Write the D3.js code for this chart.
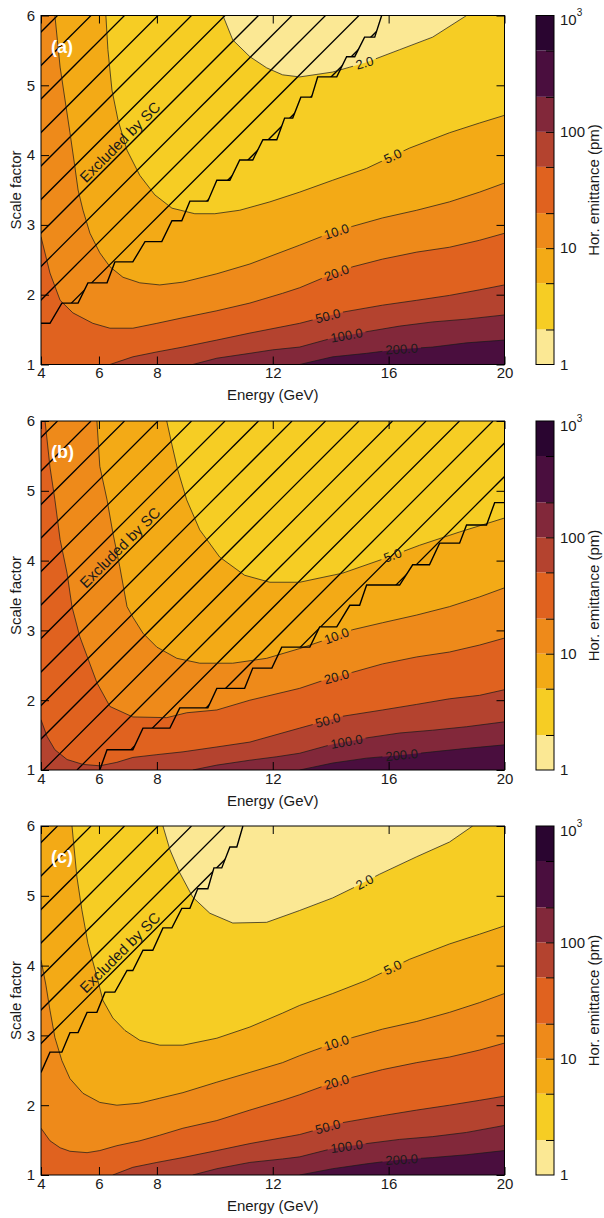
<!DOCTYPE html>
<html>
<head>
<meta charset="utf-8">
<script src="https://cdn.jsdelivr.net/npm/d3@7"></script>
<style>
  body { margin: 0; background: #fff; }
  svg { display: block; }
  text { font-family: "Liberation Sans", Arial, Helvetica, sans-serif; }
</style>
</head>
<body>
<svg id="chart" width="604" height="1218"></svg>
<script>
// ---------- data ----------
const energyTicks = [4, 6, 8, 12, 16, 20];
const scaleTicks = [1, 2, 3, 4, 5, 6];
const levels = [1, 2, 5, 10, 20, 50, 100, 200, 500, 1000];
const bandColors = ["#fbe894", "#f6cd24", "#f3aa16", "#ee8a1a", "#e0621f", "#b4432f", "#82283a", "#4a0e3e", "#2a0530"];
const colorbarLabels = [1, 10, 100, 1000];
const panelTags = ["(a)", "(b)", "(c)"];

// iso-emittance lines, points are [energy GeV, scale factor]
const emitA2 = [[10.28,6],[10.62,5.65],[11.21,5.41],[11.79,5.25],[12.34,5.15],[12.93,5.12],[14.07,5.19],[14.66,5.26],[15.24,5.33],[16.38,5.51],[17.52,5.69],[18.69,6]];
const emitA5 = [[6.24,6],[6.31,5.51],[6.45,4.93],[6.66,4.5],[6.97,4.07],[7.41,3.71],[7.93,3.43],[8.52,3.24],[9.31,3.16],[10.0,3.16],[10.86,3.21],[11.9,3.33],[12.93,3.47],[14.07,3.64],[15.24,3.81],[16.72,4.1],[18.1,4.32],[19.14,4.46],[20,4.57]];
const emitA10 = [[4.48,6],[4.66,5.26],[4.83,4.79],[5.0,4.32],[5.17,3.83],[5.28,3.5],[5.45,3.21],[5.69,2.88],[6.03,2.6],[6.38,2.4],[6.83,2.25],[7.41,2.17],[8.1,2.14],[8.9,2.18],[10.07,2.3],[11.21,2.44],[12.93,2.71],[13.79,2.85],[14.76,2.98],[15.79,3.1],[16.97,3.21],[18.1,3.33],[19.14,3.47],[20,3.6]];
const emitA20 = [[4,2.83],[4.31,2.31],[4.66,1.92],[5.1,1.74],[5.79,1.59],[6.38,1.52],[7.17,1.52],[8.0,1.59],[8.9,1.67],[10.07,1.77],[11.21,1.88],[12.34,2.02],[12.93,2.1],[13.79,2.25],[14.76,2.4],[15.79,2.51],[16.97,2.61],[18.1,2.68],[19.14,2.78],[20,2.88]];
const emitA50 = [[6.38,1],[7.17,1.11],[8.0,1.18],[8.9,1.25],[10.07,1.35],[11.21,1.45],[12.93,1.59],[14.41,1.75],[15.79,1.85],[16.97,1.92],[18.1,1.99],[19.14,2.07],[20,2.14]];
const emitA100 = [[9.24,1],[10.07,1.09],[11.21,1.16],[12.0,1.21],[12.93,1.25],[14.07,1.38],[15.24,1.47],[16.38,1.55],[17.52,1.61],[18.69,1.65],[20,1.71]];
const emitA200 = [[12.93,1],[14.07,1.11],[15.24,1.16],[16.38,1.22],[17.52,1.25],[18.69,1.31],[20,1.35]];

const emitB5 = [[8.34,6],[8.52,5.66],[8.72,5.3],[9.03,4.87],[9.48,4.44],[10.17,4.05],[11.03,3.79],[11.9,3.69],[12.93,3.69],[14.41,3.82],[15.79,4.02],[17.07,4.22],[18.45,4.41],[20,4.61]];
const emitB10 = [[5.93,6],[6.03,5.35],[6.28,4.87],[6.48,4.4],[6.72,3.91],[6.97,3.34],[7.17,3.19],[7.52,2.96],[8.0,2.76],[8.69,2.6],[9.48,2.53],[10.62,2.53],[11.79,2.6],[12.93,2.74],[13.79,2.86],[14.76,3.01],[15.79,3.11],[16.97,3.22],[18.1,3.34],[19.14,3.48],[20,3.61]];
const emitB20 = [[4.14,6],[4.31,5.34],[4.48,4.87],[4.66,4.3],[4.9,3.82],[5.07,3.34],[5.34,2.91],[5.93,2.25],[6.38,1.91],[7.17,1.76],[8.34,1.75],[9.03,1.82],[10.07,1.86],[11.21,2.0],[12.93,2.17],[13.79,2.29],[14.76,2.4],[15.79,2.52],[16.97,2.62],[18.1,2.69],[19.14,2.79],[20,2.89]];
const emitB50 = [[4,1.72],[4.21,1.48],[4.48,1.29],[4.9,1.15],[5.45,1.08],[6.03,1.06],[6.62,1.11],[7.17,1.18],[8.0,1.22],[8.9,1.26],[10.07,1.33],[11.21,1.4],[12.93,1.6],[14.41,1.77],[15.79,1.86],[16.97,1.94],[18.1,2.02],[19.14,2.07],[20,2.15]];
const emitB100 = [[9.24,1],[10.07,1.07],[11.21,1.14],[12.14,1.19],[12.93,1.24],[14.07,1.37],[15.24,1.46],[16.38,1.53],[17.52,1.57],[18.69,1.62],[20,1.69]];
const emitB200 = [[12.93,1],[14.07,1.1],[15.24,1.17],[16.38,1.21],[17.52,1.26],[18.69,1.31],[20,1.36]];

const emitC2 = [[8.21,6],[8.45,5.66],[8.79,5.33],[9.24,4.98],[9.83,4.75],[10.62,4.61],[11.79,4.62],[12.93,4.79],[14.07,4.97],[14.76,5.11],[15.69,5.31],[16.97,5.56],[18.1,5.77],[18.9,6]];
const emitC5 = [[5.07,6],[5.24,5.27],[5.41,4.8],[5.62,4.32],[5.93,3.84],[6.14,3.5],[6.48,3.25],[6.9,3.07],[7.41,2.93],[8.1,2.86],[8.9,2.86],[10.07,2.96],[11.21,3.12],[12.34,3.32],[12.93,3.43],[14.07,3.6],[15.24,3.79],[16.72,4.09],[18.1,4.31],[19.14,4.45],[20,4.57]];
const emitC10 = [[4,4.08],[4.17,3.72],[4.31,3.36],[4.48,2.97],[4.72,2.64],[5.0,2.38],[5.45,2.17],[6.03,2.04],[6.62,2.0],[7.41,2.03],[8.1,2.1],[8.9,2.18],[10.07,2.33],[11.21,2.47],[12.34,2.61],[12.93,2.71],[13.79,2.84],[14.76,2.97],[15.79,3.09],[16.97,3.2],[18.1,3.33],[19.14,3.47],[20,3.6]];
const emitC20 = [[4,1.67],[4.31,1.49],[4.66,1.39],[5.0,1.34],[5.59,1.32],[6.03,1.35],[6.62,1.42],[7.41,1.49],[8.1,1.57],[8.9,1.67],[10.07,1.78],[11.21,1.93],[12.34,2.07],[12.93,2.15],[13.79,2.28],[14.76,2.4],[15.79,2.51],[16.97,2.61],[18.1,2.69],[19.14,2.79],[20,2.89]];
const emitC50 = [[6.48,1],[7.17,1.11],[8.0,1.18],[8.9,1.25],[10.07,1.35],[11.21,1.45],[12.93,1.58],[14.41,1.75],[15.79,1.85],[16.97,1.93],[18.1,2.0],[19.14,2.07],[20,2.13]];
const emitC100 = [[9.24,1],[10.07,1.09],[11.21,1.18],[12.34,1.23],[12.93,1.26],[14.07,1.38],[15.24,1.45],[16.38,1.51],[17.52,1.55],[18.69,1.61],[20,1.71]];
const emitC200 = [[12.93,1],[14.07,1.09],[15.24,1.16],[16.38,1.22],[17.52,1.25],[18.69,1.29],[20,1.35]];

// space-charge limit (region above/left of it is excluded)
const scLimitA = [[4,1.59],[4.31,1.59],[4.72,1.88],[5.28,1.88],[5.62,2.17],[6.28,2.17],[6.55,2.47],[7.17,2.47],[7.59,2.76],[8.17,2.76],[8.52,3.06],[8.86,3.06],[9.14,3.34],[9.76,3.34],[10.07,3.64],[10.52,3.64],[10.86,3.93],[11.31,3.93],[11.66,4.22],[12.14,4.22],[12.41,4.53],[12.69,4.53],[12.97,4.83],[13.34,4.83],[13.55,5.12],[14.21,5.12],[14.55,5.41],[14.83,5.41],[15.17,5.69],[15.52,5.69],[15.76,6]];
const scLimitB = [[6.03,1],[6.28,1.29],[7.17,1.29],[7.52,1.6],[8.45,1.6],[8.79,1.89],[9.76,1.89],[10.07,2.17],[11.03,2.17],[11.31,2.46],[11.97,2.46],[12.31,2.76],[13.28,2.76],[13.62,3.05],[14.21,3.05],[14.66,3.36],[15.0,3.36],[15.24,3.65],[16.38,3.65],[16.83,3.94],[17.41,3.94],[17.76,4.25],[18.45,4.25],[18.69,4.51],[19.38,4.51],[19.66,4.83],[20,4.83]];
const scLimitC = [[4,2.47],[4.31,2.76],[4.72,2.76],[5.0,3.04],[5.28,3.04],[5.59,3.33],[5.93,3.33],[6.21,3.62],[6.55,3.62],[6.97,3.93],[7.17,3.93],[7.52,4.22],[7.86,4.22],[8.21,4.54],[8.52,4.54],[8.86,4.82],[9.14,4.82],[9.41,5.1],[9.76,5.1],[9.97,5.4],[10.24,5.4],[10.52,5.7],[10.76,5.7],[10.97,6]];

// ---------- layout ----------
const panels = [
  { contours: [[2, emitA2, 15.17], [5, emitA5, 16.14], [10, emitA10, 14.2], [20, emitA20, 14.2], [50, emitA50, 13.9], [100, emitA100, 14.55], [200, emitA200, 16.45]], limit: scLimitA },
  { contours: [[5, emitB5, 16.14], [10, emitB10, 14.2], [20, emitB20, 14.2], [50, emitB50, 13.9], [100, emitB100, 14.55], [200, emitB200, 16.45]], limit: scLimitB },
  { contours: [[2, emitC2, 15.17], [5, emitC5, 16.14], [10, emitC10, 14.2], [20, emitC20, 14.2], [50, emitC50, 13.9], [100, emitC100, 14.55], [200, emitC200, 16.45]], limit: scLimitC }
];

const left = 41, W = 463.5, H = 349;
const tops = [15.5, 421, 826];
const cbX = 536, cbW = 18;
const AXIS_FS = 15;

const x = d3.scaleLinear().domain([4, 20]).range([0, W]);
const y = d3.scaleLinear().domain([1, 6]).range([H, 0]);
const cy = d3.scaleLog().domain([1, 1000]).range([H, 0]);
const line = d3.line().x(d => x(d[0])).y(d => y(d[1]));

// position of a point along the frame, walking clockwise from the top-left corner
const [e0, e1] = x.domain(), [s0, s1] = y.domain();
const perim = 2 * (e1 - e0) + 2 * (s1 - s0);
function frameT([e, s]) {
  if (s === s1) return e - e0;
  if (e === e1) return (e1 - e0) + (s1 - s);
  if (s === s0) return (e1 - e0) + (s1 - s0) + (e1 - e);
  return 2 * (e1 - e0) + (s1 - s0) + (s - s0);
}
const frameCorners = [[e0, s1], [e1, s1], [e1, s0], [e0, s0]].map(c => [frameT(c), c]);
frameCorners[3][0] = 2 * (e1 - e0) + (s1 - s0);
function closeAlongFrame(pts, dir) {
  const a = frameT(pts[pts.length - 1]), b = frameT(pts[0]);
  const span = dir > 0 ? (b - a + perim) % perim : (a - b + perim) % perim;
  const extra = frameCorners
    .map(([t, c]) => [dir > 0 ? (t - a + perim) % perim : (a - t + perim) % perim, c])
    .filter(([o]) => o > 1e-9 && o < span)
    .sort((u, v) => u[0] - v[0])
    .map(d => d[1]);
  return pts.concat(extra);
}
function pointAt(pts, e) {
  const tx = x(e);
  for (let k = 0; k < pts.length - 1; k++) {
    const x0 = x(pts[k][0]), y0 = y(pts[k][1]), x1 = x(pts[k + 1][0]), y1 = y(pts[k + 1][1]);
    if ((tx - x0) * (tx - x1) <= 0 && x1 !== x0) {
      const t = (tx - x0) / (x1 - x0);
      return { x: tx, y: y0 + t * (y1 - y0), a: Math.atan2(y1 - y0, x1 - x0) * 180 / Math.PI };
    }
  }
  return null;
}

const svg = d3.select("#chart");
const defs = svg.append("defs");

panels.forEach((pd, i) => {
  const top = tops[i];
  const g = svg.append("g").attr("transform", `translate(${left},${top})`);

  defs.append("clipPath").attr("id", `plot${i}`)
    .append("rect").attr("width", W).attr("height", H);
  const body = g.append("g").attr("clip-path", `url(#plot${i})`);

  // filled bands
  const firstIdx = levels.indexOf(pd.contours[0][0]);
  body.append("rect").attr("width", W).attr("height", H).attr("fill", bandColors[firstIdx - 1]);
  pd.contours.forEach(([lev, pts]) => {
    body.append("path")
      .attr("d", line(closeAlongFrame(pts, 1)) + "Z")
      .attr("fill", bandColors[levels.indexOf(lev)]);
  });

  // hatched excluded region
  defs.append("clipPath").attr("id", `sc${i}`)
    .append("path").attr("d", line(closeAlongFrame(pd.limit, -1)) + "Z");
  const hatch = body.append("g").attr("clip-path", `url(#sc${i})`);
  for (let c = 16.5 - 33.5; c < W + H + 33.5; c += 33.5) {
    hatch.append("line")
      .attr("x1", c).attr("y1", 0).attr("x2", c - H).attr("y2", H)
      .attr("stroke", "#000").attr("stroke-width", 1.25);
  }

  // contour lines, with gaps under their labels
  const mask = defs.append("mask").attr("id", `lab${i}`)
    .attr("maskUnits", "userSpaceOnUse")
    .attr("x", -5).attr("y", -5).attr("width", W + 10).attr("height", H + 10);
  mask.append("rect").attr("x", -5).attr("y", -5).attr("width", W + 10).attr("height", H + 10).attr("fill", "#fff");

  const lines = body.append("g").attr("mask", `url(#lab${i})`);
  pd.contours.forEach(([lev, pts]) => {
    lines.append("path").attr("d", line(pts))
      .attr("fill", "none").attr("stroke", "#1a1a1a")
      .attr("stroke-width", 0.9).attr("stroke-opacity", 0.8);
  });

  // space-charge boundary
  body.append("path").attr("d", line(pd.limit))
    .attr("fill", "none").attr("stroke", "#000").attr("stroke-width", 1.4)
    .attr("stroke-linejoin", "miter");

  const labels = g.append("g");
  pd.contours.forEach(([lev, pts, at]) => {
    const p = pointAt(pts, at);
    if (!p) return;
    const t = labels.append("text")
      .attr("transform", `translate(${p.x},${p.y}) rotate(${p.a})`)
      .attr("text-anchor", "middle").attr("dy", "0.35em")
      .attr("font-size", 13).attr("fill", "#1a1a1a")
      .text(lev.toFixed(1));
    const w = t.node().getComputedTextLength() + 6;
    mask.append("rect")
      .attr("x", -w / 2).attr("y", -6.5).attr("width", w).attr("height", 13)
      .attr("transform", `translate(${p.x},${p.y}) rotate(${p.a})`)
      .attr("fill", "#000");
  });

  g.append("text")
    .attr("transform", "translate(79,126.5) rotate(-45)")
    .attr("text-anchor", "middle").attr("dy", "0.35em")
    .attr("font-size", 15).attr("fill", "#1a1a1a")
    .text("Excluded by SC");

  g.append("text").attr("x", 10).attr("y", 37)
    .attr("font-size", 18).attr("font-weight", "bold").attr("fill", "#fff")
    .text(panelTags[i]);

  // frame and axes
  g.append("rect").attr("width", W).attr("height", H)
    .attr("fill", "none").attr("stroke", "#000").attr("stroke-width", 1);

  const styleAxis = sel => {
    sel.select(".domain").remove();
    sel.attr("font-family", null).attr("font-size", AXIS_FS);
    sel.selectAll("text").attr("fill", "#1a1a1a");
    sel.selectAll("line").attr("stroke", "#000");
  };
  g.append("g").attr("transform", `translate(0,${H})`)
    .call(d3.axisBottom(x).tickValues(energyTicks).tickSize(-8).tickPadding(3).tickFormat(d3.format("d")))
    .call(styleAxis);
  g.append("g")
    .call(d3.axisTop(x).tickValues(energyTicks).tickSize(-8).tickFormat(""))
    .call(styleAxis);
  g.append("g")
    .call(d3.axisLeft(y).tickValues(scaleTicks).tickSize(-8).tickPadding(6).tickFormat(d3.format("d")))
    .call(styleAxis);
  g.append("g").attr("transform", `translate(${W},0)`)
    .call(d3.axisRight(y).tickValues(scaleTicks).tickSize(-8).tickFormat(""))
    .call(styleAxis);

  g.append("text").attr("x", W / 2).attr("y", H + 35.5)
    .attr("text-anchor", "middle").attr("font-size", AXIS_FS).attr("fill", "#1a1a1a")
    .text("Energy (GeV)");
  g.append("text").attr("transform", `translate(${21 - left},${H / 2}) rotate(-90)`)
    .attr("text-anchor", "middle").attr("font-size", AXIS_FS).attr("fill", "#1a1a1a")
    .text("Scale factor");

  // colour bar
  const cb = svg.append("g").attr("transform", `translate(${cbX},${top})`);
  d3.range(levels.length - 1).forEach(k => {
    cb.append("rect")
      .attr("x", 0).attr("width", cbW)
      .attr("y", cy(levels[k + 1])).attr("height", cy(levels[k]) - cy(levels[k + 1]))
      .attr("fill", bandColors[k]);
  });
  cb.append("rect").attr("width", cbW).attr("height", H)
    .attr("fill", "none").attr("stroke", "#000").attr("stroke-width", 1);
  cb.append("g").attr("transform", `translate(${cbW},0)`)
    .call(d3.axisLeft(cy).tickValues(levels.slice(1, -1)).tickSize(8).tickFormat(""))
    .call(styleAxis);
  const cbAxis = cb.append("g").attr("transform", `translate(${cbW},0)`)
    .call(d3.axisRight(cy).tickValues(colorbarLabels).tickSize(0).tickPadding(6)
      .tickFormat(d => d === 1000 ? "" : String(d)))
    .call(styleAxis);
  cbAxis.selectAll(".tick").filter(d => d === 1000).select("text")
    .attr("dy", "0.62em")
    .call(t => {
      t.append("tspan").text("10");
      t.append("tspan").attr("font-size", 10).attr("dy", "-0.9em").text("3");
    });
  cb.append("text").attr("transform", `translate(${599 - cbX},${H / 2}) rotate(-90)`)
    .attr("text-anchor", "middle").attr("font-size", AXIS_FS).attr("fill", "#1a1a1a")
    .text("Hor. emittance (pm)");
});
</script>
</body>
</html>
